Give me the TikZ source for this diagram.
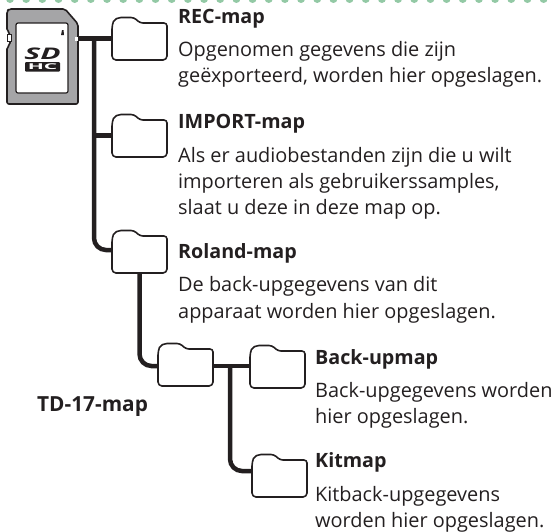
\documentclass[tikz,border=0pt]{standalone}
\usepackage{fontspec}
\usetikzlibrary{calc}
\setmainfont{Open Sans}
\definecolor{dotgreen}{HTML}{93C9A5}
\definecolor{cardgray}{HTML}{A5A5A7}
\definecolor{ink}{HTML}{231F20}
\newcommand{\folderat}[3]{%
  \node[foldernode] (#1) at (#2,#3) {};
  \begin{scope}[shift={(#1.north west)}]
    \draw[folderline] (0,8) [rounded corners=2pt]-- (2,3) -- (7,0.5) [rounded corners=3pt]-- (22,0.5) -- (28,6) -- (55,6) [rounded corners=4pt]-- (55,43) -- (0,43) -- cycle;
  \end{scope}}
\tikzset{
  x=1pt,y=-1pt,
  foldernode/.style={minimum width=55pt,minimum height=43pt,inner sep=0pt,outer sep=0pt},
  folderline/.style={draw=ink,line width=1.6pt,fill=white,line join=round},
  branch/.style={draw=ink,line width=4.5pt},
  headtext/.style={anchor=base west,inner sep=0pt,font=\fontsize{19.7}{22}\selectfont\bfseries,text=ink},
  bodytext/.style={anchor=base west,inner sep=0pt,font=\fontsize{19.9}{22}\selectfont,text=ink},
}
\begin{document}
\begin{tikzpicture}
\useasboundingbox (0,0) rectangle (551,531);
\foreach \i in {0,...,34} {\fill[dotgreen] (10+16.17*\i,-1) circle (4);}
% card
\node[minimum width=71pt,minimum height=95pt,inner sep=0pt,outer sep=0pt] (card) at (42.5,56.5) {};
\draw[draw=ink,line width=1.6pt,fill=cardgray,rounded corners=2pt,line join=round]
  (7,11) -- (9,9) -- (65,9) -- (78,24) -- (78,104) -- (7,104) -- (7,47) -- (10,45) -- (10,33) -- (7,31) -- cycle;
\draw[ink,line width=1pt,fill=white] (7.5,34) rectangle (11,41);
\draw[draw=ink,line width=1.2pt,fill=white,rounded corners=2pt] (16,23) rectangle (68,93);
\fill[ink] (61,35) -- (62,30) -- (63.5,30) -- (64,35) -- cycle;
\node[inner sep=0pt,text=ink,font=\bfseries\itshape] (sdlogo) at (42.5,54) {\scalebox{3}[1.6]{SD}};
\fill[ink,rounded corners=1pt] (25,62) rectangle (60,71.5);
\node[inner sep=0pt,text=white,font=\bfseries] (hclogo) at (42.5,66.8) {\scalebox{2.1}[0.8]{HC}};
% folders
\folderat{f1}{139.5}{38.5}
\folderat{f2}{139.5}{135.5}
\folderat{f3}{139.5}{251.5}
\folderat{f4}{185.5}{364.5}
\folderat{f5}{277.5}{366.5}
\folderat{f6}{279.5}{475.5}
% connectors
\coordinate (j1) at (94,38.5);
\coordinate (j2) at (230,366);
\coordinate (e3) at ($(f3.west)+(0,-1.5)$);
\coordinate (e6) at ($(f6.west)+(0,-4.5)$);
\draw[branch] (card.east |- f1.west) -- (f1.west);
\draw[branch,rounded corners=12pt] (j1) -- (j1 |- e3) -- (e3);
\draw[branch] (j1 |- f2.west) -- (f2.west);
\draw[branch,rounded corners=12pt] (f3.south) -- (f3.south |- j2) -- (f4.west |- j2);
\draw[branch] (f4.east |- j2) -- (f5.west |- j2);
\draw[branch,rounded corners=12pt] (j2) -- (j2 |- e6) -- (e6);
\fill[white] (74.5,37) rectangle (77.5,40.5);
% text
\node[headtext] (t1) at (178,23) {REC-map};
\node[bodytext] (t1a) at (178,56) {Opgenomen gegevens die zijn};
\node[bodytext] (t1b) at (178,82) {geëxporteerd, worden hier opgeslagen.};
\node[headtext] (t2) at (178,128) {IMPORT-map};
\node[bodytext] (t2a) at (178,162) {Als er audiobestanden zijn die u wilt};
\node[bodytext] (t2b) at (178,188) {importeren als gebruikerssamples,};
\node[bodytext] (t2c) at (178,214) {slaat u deze in deze map op.};
\node[headtext] (t3) at (178,258) {Roland-map};
\node[bodytext] (t3a) at (178,291) {De back-upgegevens van dit};
\node[bodytext] (t3b) at (178,318) {apparaat worden hier opgeslagen.};
\node[headtext] (t4) at (315,364) {Back-upmap};
\node[bodytext] (t4a) at (315,397) {Back-upgegevens worden};
\node[bodytext] (t4b) at (315,423) {hier opgeslagen.};
\node[headtext] (t5) at (315,467) {Kitmap};
\node[bodytext] (t5a) at (315,501) {Kitback-upgegevens};
\node[bodytext] (t5b) at (315,527) {worden hier opgeslagen.};
\node[headtext,font=\fontsize{20.8}{22}\selectfont\bfseries] (t6) at (37,411) {TD-17-map};
\end{tikzpicture}
\end{document}
